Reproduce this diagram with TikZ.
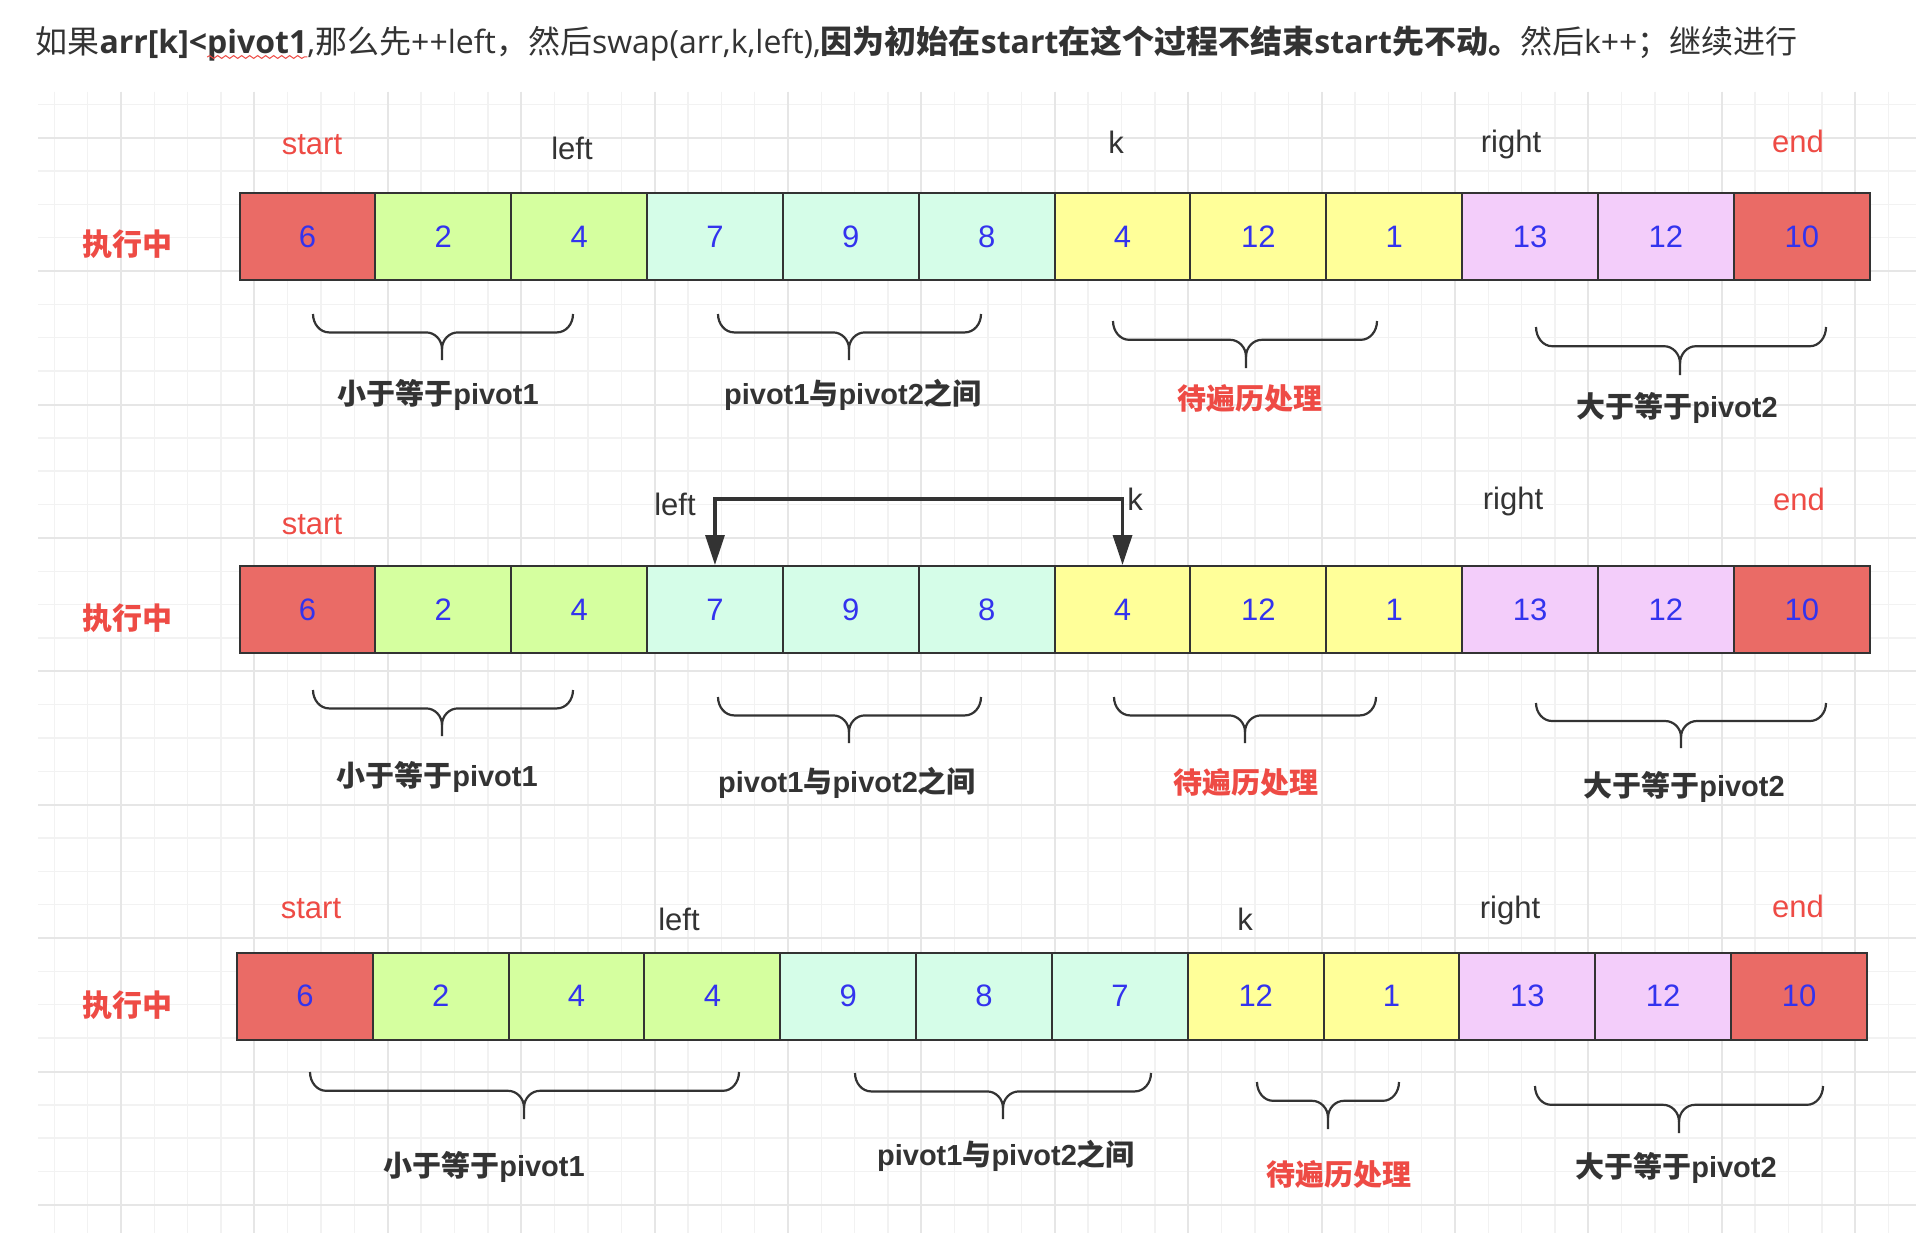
\documentclass[tikz,border=0pt]{standalone}
\usepackage{fontspec}
\setmainfont{Liberation Sans}
\newfontfamily\cjk{Noto Sans CJK SC}
\newfontfamily\osans{Open Sans}
\usetikzlibrary{arrows.meta,decorations.pathmorphing}
\definecolor{cred}{HTML}{EA6B66}
\definecolor{cgreen}{HTML}{D5FF9F}
\definecolor{ccyan}{HTML}{D5FDE8}
\definecolor{cyellow}{HTML}{FFFF99}
\definecolor{cpink}{HTML}{F3CDFA}
\definecolor{cborder}{HTML}{333333}
\definecolor{cnum}{HTML}{3333EE}
\definecolor{cdark}{HTML}{333333}
\definecolor{clabred}{HTML}{EE4B45}
\definecolor{gminor}{HTML}{F2F2F2}
\definecolor{gmajor}{HTML}{E6E6E6}
\tikzset{
  gridminor/.style={draw=gminor, line width=0.7pt},
  gridmajor/.style={draw=gmajor, line width=1pt},
  cell/.style={draw=cborder, line width=1pt, minimum width=67.925pt, minimum height=43.5pt,
    inner sep=0pt, font=\fontsize{15.5}{18}\selectfont, text=cnum},
  ptr/.style={anchor=base, inner sep=0pt, font=\fontsize{15.5}{18}\selectfont, text=cdark},
  ptrred/.style={ptr, text=clabred},
  rowlab/.style={inner sep=0pt, font=\cjk\bfseries\fontsize{15}{18}\selectfont, text=clabred},
  bracelab/.style={inner sep=0pt, font=\bfseries\fontsize{14.5}{18}\selectfont, text=cdark},
  bracelabred/.style={bracelab, text=clabred},
  bracestyle/.style={draw=cdark, line width=1.1pt},
  swaparrow/.style={draw=cdark, line width=1.65pt,
    arrows={Triangle[width=9.5pt,length=15pt]-Triangle[width=9.5pt,length=15pt]}},
  ttl/.style={anchor=base west, inner sep=0pt, outer sep=0pt, font=\fontsize{16}{19}\selectfont, text=cdark},
}
% curly brace: x1 x2 xm ytop ytip
\newcommand\curlyb[5]{%
  \pgfmathsetmacro\cbym{#4+0.4*(#5-#4)}%
  \pgfmathsetmacro\cbdy{\cbym-#4}%
  \pgfmathsetmacro\cbt{0.6*(#5-\cbym)}%
  \draw[bracestyle] (#1,#4) .. controls (#1,{#4+0.552*\cbdy}) and ({#1+0.448*16},\cbym) .. ({#1+16},\cbym)
     -- ({#3-16},\cbym) .. controls ({#3-16+0.552*16},\cbym) and (#3,{\cbym+0.448*\cbt}) .. (#3,{\cbym+\cbt})
     -- (#3,#5);
  \draw[bracestyle] (#2,#4) .. controls (#2,{#4+0.552*\cbdy}) and ({#2-0.448*16},\cbym) .. ({#2-16},\cbym)
     -- ({#3+16},\cbym) .. controls ({#3+16-0.552*16},\cbym) and (#3,{\cbym+0.448*\cbt}) .. (#3,{\cbym+\cbt});
}
\begin{document}
\begin{tikzpicture}[x=0.5pt,y=-0.5pt]
\useasboundingbox (0,0) rectangle (1916,1247);
\fill[white] (0,0) rectangle (1916,1247);
% background grid
\foreach \i in {0,...,55}{\draw[gridminor] ({54.3+33.35*\i},92) -- ({54.3+33.35*\i},1233);}
\foreach \j in {0,...,33}{\draw[gridminor] (38,{104.3+33.35*\j}) -- (1916,{104.3+33.35*\j});}
\foreach \i in {0,...,13}{\draw[gridmajor] ({121+133.4*\i},92) -- ({121+133.4*\i},1233);}
\foreach \j in {0,...,8}{\draw[gridmajor] (38,{137.7+133.4*\j}) -- (1916,{137.7+133.4*\j});}

% title
\node[ttl] (t1) at (35.5,54) {\cjk 如果};
\node[ttl] (t2) at (t1.base east) {\osans\bfseries arr[k]<};
\node[ttl] (t3) at (t2.base east) {\osans\bfseries pivot1};
\node[ttl] (t4) at (t3.base east) {\osans ,\cjk 那么先\osans ++left\cjk ，然后\osans swap(arr,k,left),\bfseries\cjk 因为初始在\osans start\cjk 在这个过程不结束\osans start\cjk 先不动。\mdseries 然后\osans k++\cjk ；继续进行};
\draw[draw=clabred, line width=0.5pt, decorate, decoration={snake, amplitude=0.7pt, segment length=4pt}]
  ([yshift=-1.5pt]t3.base west) -- ([yshift=-1.5pt]t3.base east);

% ---------- row 1 ----------
\foreach \v/\c [count=\i] in {6/cred,2/cgreen,4/cgreen,7/ccyan,9/ccyan,8/ccyan,4/cyellow,12/cyellow,1/cyellow,13/cpink,12/cpink,10/cred}
  \node[cell,fill=\c] (r1c\i) at ({239.5+135.85*(\i-0.5)},236.5) {\v};
\node[rowlab] (run1) at (127,244) {执行中};
\node[ptrred] (start1) at (312,155) {start};
\node[ptr] (left1) at (572,160) {left};
\node[ptr] (k1) at (1116,154) {k};
\node[ptr] (right1) at (1511,152) {right};
\node[ptrred] (end1) at (1798,152) {end};
\curlyb{313}{573}{442}{314}{360}
\curlyb{718}{981}{849}{314}{360}
\curlyb{1113}{1377}{1246}{321}{368}
\curlyb{1536}{1826}{1680}{327}{375}
\node[bracelab] (g1a) at (438,395) {{\cjk 小于等于}pivot1};
\node[bracelab] (g1b) at (853,395) {pivot1{\cjk 与}pivot2{\cjk 之间}};
\node[bracelabred, font=\cjk\bfseries\fontsize{14.5}{18}\selectfont] (g1c) at (1250,399) {待遍历处理};
\node[bracelab] (g1d) at (1677,408) {{\cjk 大于等于}pivot2};

% ---------- row 2 ----------
\foreach \v/\c [count=\i] in {6/cred,2/cgreen,4/cgreen,7/ccyan,9/ccyan,8/ccyan,4/cyellow,12/cyellow,1/cyellow,13/cpink,12/cpink,10/cred}
  \node[cell,fill=\c] (r2c\i) at ({239.5+135.85*(\i-0.5)},609.5) {\v};
\node[rowlab] (run2) at (127,618) {执行中};
\node[ptrred] (start2) at (312,534) {start};
\node[ptr] (left2) at (675,515) {left};
\node[ptr] (k2) at (1135,510) {k};
\node[ptr] (right2) at (1513,509) {right};
\node[ptrred] (end2) at (1799,510) {end};
\draw[swaparrow] (r2c4.north) -- ++(0,-66) -| (r2c7.north);
\curlyb{313}{573}{442}{690}{736}
\curlyb{718}{981}{849}{697}{743}
\curlyb{1114}{1376}{1245}{697}{743}
\curlyb{1536}{1826}{1681}{703}{748}
\node[bracelab] (g2a) at (437,777) {{\cjk 小于等于}pivot1};
\node[bracelab] (g2b) at (847,783) {pivot1{\cjk 与}pivot2{\cjk 之间}};
\node[bracelabred, font=\cjk\bfseries\fontsize{14.5}{18}\selectfont] (g2c) at (1246,783) {待遍历处理};
\node[bracelab] (g2d) at (1684,787) {{\cjk 大于等于}pivot2};

% ---------- row 3 ----------
\foreach \v/\c [count=\i] in {6/cred,2/cgreen,4/cgreen,4/cgreen,9/ccyan,8/ccyan,7/ccyan,12/cyellow,1/cyellow,13/cpink,12/cpink,10/cred}
  \node[cell,fill=\c] (r3c\i) at ({237+135.83*(\i-0.5)},996) {\v};
\node[rowlab] (run3) at (127,1005) {执行中};
\node[ptrred] (start3) at (311,918) {start};
\node[ptr] (left3) at (679,930) {left};
\node[ptr] (k3) at (1245,930) {k};
\node[ptr] (right3) at (1510,918) {right};
\node[ptrred] (end3) at (1798,917) {end};
\curlyb{310}{739}{524}{1072}{1119}
\curlyb{855}{1151}{1003}{1073}{1119}
\curlyb{1257}{1399}{1328}{1082}{1129}
\curlyb{1535}{1823}{1679}{1086}{1133}
\node[bracelab] (g3a) at (484,1167) {{\cjk 小于等于}pivot1};
\node[bracelab] (g3b) at (1006,1156) {pivot1{\cjk 与}pivot2{\cjk 之间}};
\node[bracelabred, font=\cjk\bfseries\fontsize{14.5}{18}\selectfont] (g3c) at (1339,1174) {待遍历处理};
\node[bracelab] (g3d) at (1676,1168) {{\cjk 大于等于}pivot2};
\end{tikzpicture}
\end{document}
